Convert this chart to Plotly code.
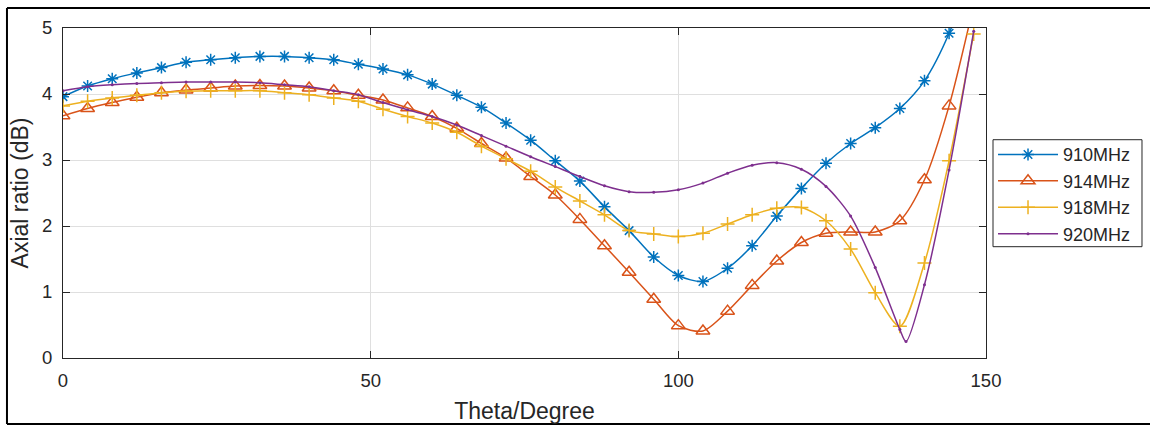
import plotly.graph_objects as go

theta = list(range(0, 149, 4))

ar_910 = [3.96, 4.12, 4.23, 4.32, 4.40, 4.48, 4.52, 4.55, 4.57, 4.57,
          4.55, 4.52, 4.45, 4.38, 4.29, 4.15, 3.98, 3.80, 3.56, 3.30,
          2.99, 2.68, 2.29, 1.93, 1.53, 1.25, 1.16, 1.36, 1.70, 2.15,
          2.57, 2.95, 3.25, 3.49, 3.78, 4.20, 4.92, 6.00]
ar_914 = [3.67, 3.78, 3.87, 3.95, 4.02, 4.06, 4.09, 4.12, 4.13, 4.12,
          4.09, 4.05, 3.98, 3.91, 3.79, 3.66, 3.48, 3.25, 3.03, 2.75,
          2.47, 2.10, 1.70, 1.30, 0.89, 0.49, 0.41, 0.71, 1.10, 1.47,
          1.75, 1.89, 1.91, 1.91, 2.08, 2.70, 3.82, 5.35]
ar_918 = [3.82, 3.89, 3.94, 3.98, 4.02, 4.04, 4.05, 4.05, 4.05, 4.02,
          3.99, 3.94, 3.89, 3.77, 3.66, 3.56, 3.42, 3.21, 3.02, 2.83,
          2.59, 2.38, 2.17, 1.93, 1.88, 1.84, 1.89, 2.03, 2.17, 2.27,
          2.28, 2.08, 1.65, 0.99, 0.48, 1.44, 2.99, 4.91]
theta_920 = list(range(0, 137, 4)) + [137] + list(range(140, 149, 4))
ar_920 = [4.05, 4.11, 4.14, 4.16, 4.17, 4.18, 4.18, 4.18, 4.17, 4.14,
          4.11, 4.05, 3.99, 3.87, 3.76, 3.66, 3.53, 3.37, 3.21, 3.05,
          2.90, 2.75, 2.61, 2.52, 2.51, 2.55, 2.65, 2.80, 2.92, 2.96,
          2.86, 2.60, 2.15, 1.37, 0.43, 0.25, 1.11, 2.85, 4.95]

names = ["910MHz", "914MHz", "918MHz", "920MHz"]
colors = ["#0072BD", "#D95319", "#EDB120", "#7E2F8E"]

FONT = "Liberation Sans, Arial, Helvetica, sans-serif"
AX = "#262626"

fig = go.Figure()
fig.add_trace(go.Scatter(x=theta, y=ar_910, name=names[0], mode="lines+markers",
                         line=dict(color=colors[0], width=1.5, shape="spline", smoothing=0.8),
                         marker=dict(symbol="asterisk-open", size=10,
                                     line=dict(color=colors[0], width=1.5))))
fig.add_trace(go.Scatter(x=theta, y=ar_914, name=names[1], mode="lines+markers",
                         line=dict(color=colors[1], width=1.5, shape="spline", smoothing=0.8),
                         marker=dict(symbol="triangle-up-open", size=12,
                                     line=dict(color=colors[1], width=1.5))))
fig.add_trace(go.Scatter(x=theta, y=ar_918, name=names[2], mode="lines+markers",
                         line=dict(color=colors[2], width=1.5, shape="spline", smoothing=0.8),
                         marker=dict(symbol="cross-thin-open", size=10,
                                     line=dict(color=colors[2], width=1.5))))
fig.add_trace(go.Scatter(x=theta_920, y=ar_920, name=names[3], mode="lines+markers",
                         line=dict(color=colors[3], width=1.5, shape="spline", smoothing=0.8),
                         marker=dict(symbol="circle", size=3, color=colors[3])))

frame = dict(color="black", width=2)
fig.update_layout(
    width=1150, height=426,
    margin=dict(l=63, r=164, t=28, b=68, autoexpand=False),
    paper_bgcolor="white", plot_bgcolor="white",
    font=dict(family=FONT, color=AX, size=18.5),
    showlegend=True,
    hovermode=False,
    legend=dict(x=1.0076, y=0.672, xanchor="left", yanchor="top",
                borderwidth=0, bgcolor="rgba(0,0,0,0)",
                font=dict(family=FONT, size=18, color=AX),
                itemwidth=60, tracegroupgap=0),
    xaxis=dict(range=[0, 150], tickvals=[0, 50, 100, 150], showgrid=True,
               gridcolor="#dfdfdf", gridwidth=1, zeroline=False, automargin=False,
               showline=True, linecolor=AX, linewidth=1, mirror="ticks",
               ticks="inside", ticklen=7, tickcolor=AX,
               tickfont=dict(size=18.5, color=AX, family=FONT),
               ticklabelstandoff=6,
               title=dict(text="Theta/Degree", font=dict(size=23, family=FONT, color=AX),
                          standoff=12)),
    yaxis=dict(range=[0, 5], tickvals=[0, 1, 2, 3, 4, 5], showgrid=True,
               gridcolor="#dfdfdf", gridwidth=1, zeroline=False, automargin=False,
               showline=True, linecolor=AX, linewidth=1, mirror="ticks",
               ticks="inside", ticklen=7, tickcolor=AX,
               tickfont=dict(size=18.5, color=AX, family=FONT),
               ticklabelstandoff=6,
               title=dict(text="Axial ratio (dB)", font=dict(size=23, family=FONT, color=AX),
                          standoff=6)),
    shapes=[
        # legend box
        dict(type="rect", xref="paper", yref="paper",
             x0=1.0076, x1=1.169, y0=0.3373, y1=0.6615,
             line=dict(color=AX, width=1), fillcolor="white", layer="below"),
        # outer image frame (left, top, bottom)
        dict(type="line", xref="paper", yref="paper",
             x0=-0.0607, x1=-0.0607, y0=-0.2, y1=1.0606, line=frame, layer="above"),
        dict(type="line", xref="paper", yref="paper",
             x0=-0.0607, x1=1.3, y0=1.0606, y1=1.0606, line=frame, layer="above"),
        dict(type="line", xref="paper", yref="paper",
             x0=-0.0607, x1=1.3, y0=-0.2, y1=-0.2, line=frame, layer="above"),
    ],
)

fig.write_html(
    "out.html",
    config={"displayModeBar": False},
    post_script="document.body.style.margin='0';"
                "document.body.style.padding='0';"
                "document.documentElement.style.overflow='hidden';"
                "document.body.style.overflow='hidden';",
)
